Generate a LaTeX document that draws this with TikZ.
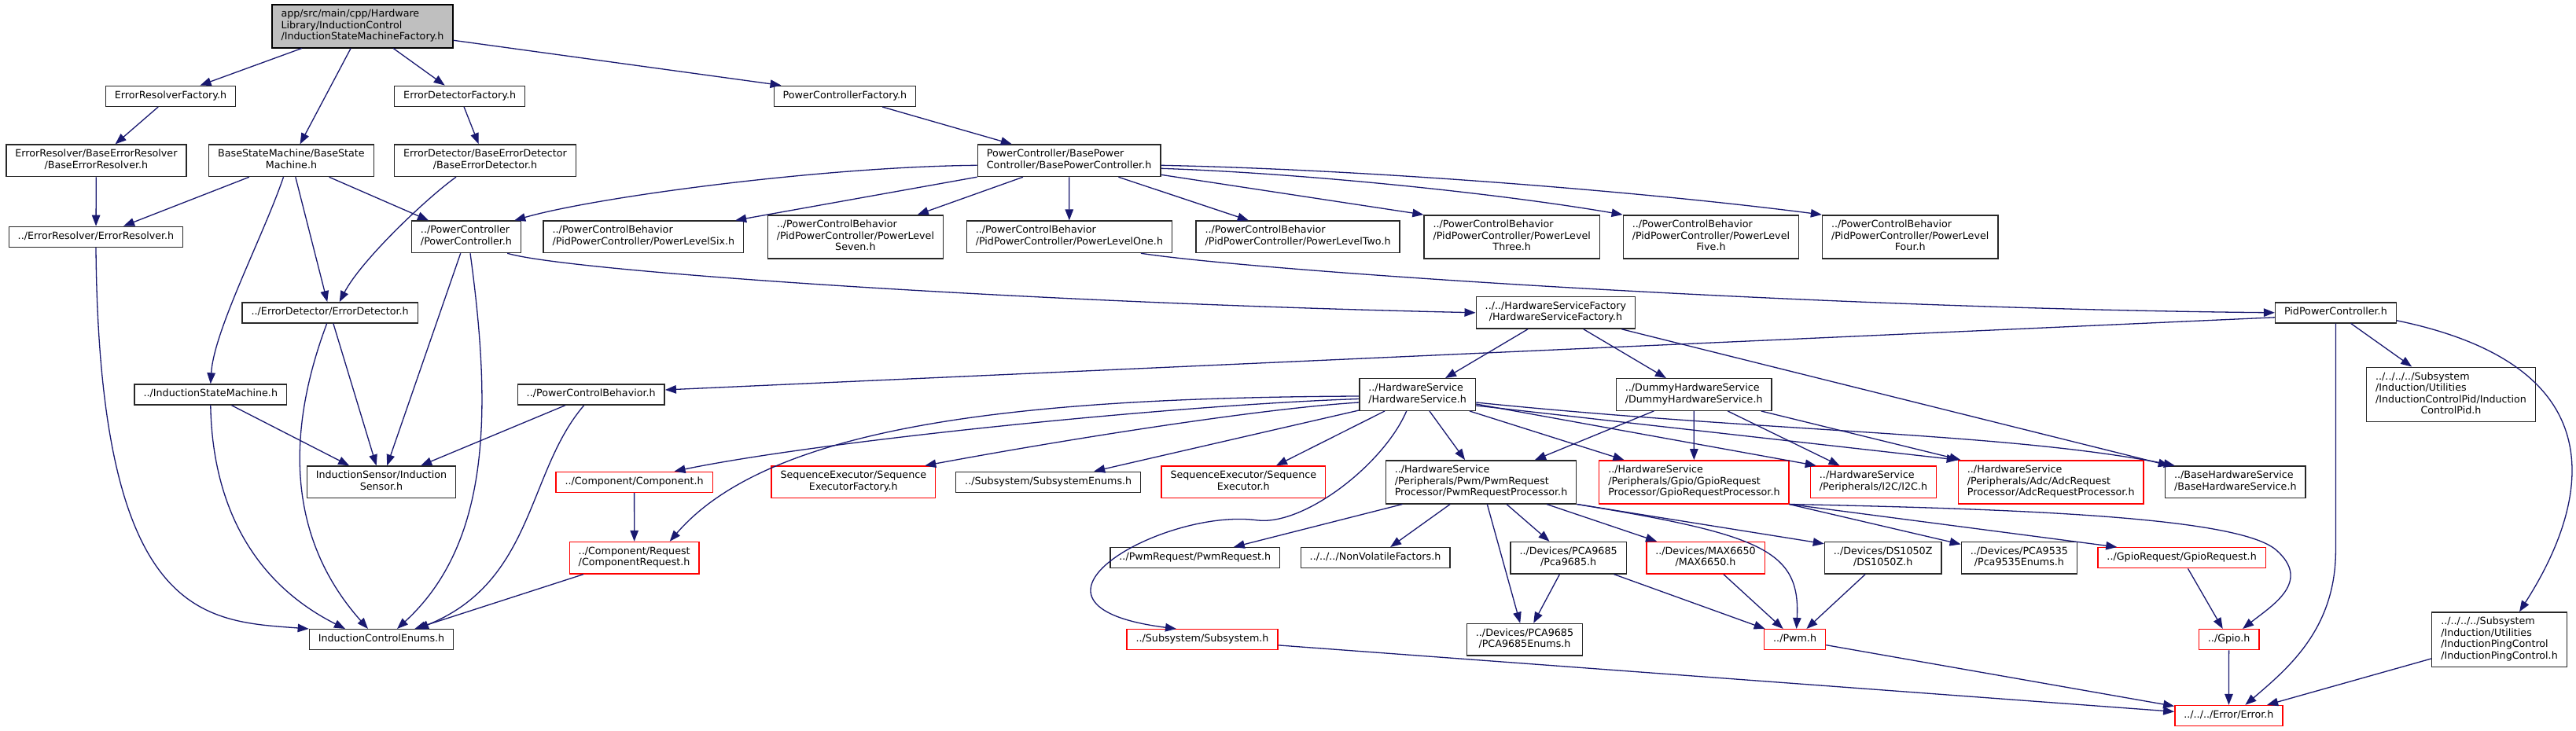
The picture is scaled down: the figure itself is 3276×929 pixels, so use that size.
\documentclass[tikz,border=0pt]{standalone}
\usepackage{fontspec}
\setmainfont{DejaVu Sans}
\usepackage{tikz}
\usetikzlibrary{arrows.meta, positioning, calc}
\definecolor{edgeBlue}{RGB}{25, 25, 112}
\definecolor{rootGray}{RGB}{191, 191, 191}
\definecolor{borderDark}{RGB}{40, 40, 40}
\definecolor{truncRed}{RGB}{255, 0, 0}
\newcommand{\dox}{\fontsize{12.7}{14.5}\selectfont}
\newcommand{\incf}[1]{\begin{tabular}{@{}l@{}}#1\end{tabular}}
\newcommand{\ctrline}[1]{\multicolumn{1}{@{}c@{}}{#1}}

\begin{document}
\begin{tikzpicture}[
    x=1pt, y=1pt,
    file/.style={draw=borderDark, fill=white, line width=1.4pt, inner xsep=11.5pt, inner ysep=5.75pt, font=\dox},
    root/.style={file, draw=black, fill=rootGray},
    trunc/.style={file, draw=truncRed},
    dep/.style={draw=edgeBlue, line width=1.3pt, -{Triangle[length=14pt, width=10.5pt]}}
]
    \useasboundingbox (0, 0) rectangle (3276, -929);
    \fill[white] (0, 0) rectangle (3276, -929);

    % Root file
    \node[root] (ismf) at (461, -33.3) {\incf{app/src/main/cpp/Hardware\\Library/InductionControl\\/InductionStateMachineFactory.h}};

    % Factories (first level)
    \node[file] (erf) at (217, -122.3) {\incf{ErrorResolverFactory.h}};
    \node[file] (edf) at (584.7, -122.3) {\incf{ErrorDetectorFactory.h}};
    \node[file] (pcf) at (1074.5, -122.3) {\incf{PowerControllerFactory.h}};

    % Base classes
    \node[file] (berr) at (122.4, -204.3) {\incf{ErrorResolver/BaseErrorResolver\\\ctrline{/BaseErrorResolver.h}}};
    \node[file] (bsm) at (370.5, -204.3) {\incf{BaseStateMachine/BaseState\\\ctrline{Machine.h}}};
    \node[file] (bed) at (617, -204.3) {\incf{ErrorDetector/BaseErrorDetector\\\ctrline{/BaseErrorDetector.h}}};
    \node[file] (bpc) at (1359.6, -204.3) {\incf{PowerController/BasePower\\Controller/BasePowerController.h}};

    % Power levels row
    \node[file] (errres) at (122, -301.3) {\incf{../ErrorResolver/ErrorResolver.h}};
    \node[file] (pc) at (593, -301.3) {\incf{../PowerController\\/PowerController.h}};
    \node[file] (plsix) at (818.4, -301.3) {\incf{../PowerControlBehavior\\/PidPowerController/PowerLevelSix.h}};
    \node[file] (plseven) at (1087.9, -301.3) {\incf{../PowerControlBehavior\\/PidPowerController/PowerLevel\\\ctrline{Seven.h}}};
    \node[file] (plone) at (1359.9, -301.3) {\incf{../PowerControlBehavior\\/PidPowerController/PowerLevelOne.h}};
    \node[file] (pltwo) at (1650.6, -301.3) {\incf{../PowerControlBehavior\\/PidPowerController/PowerLevelTwo.h}};
    \node[file] (plthree) at (1922.7, -301.3) {\incf{../PowerControlBehavior\\/PidPowerController/PowerLevel\\\ctrline{Three.h}}};
    \node[file] (plfive) at (2175.9, -301.3) {\incf{../PowerControlBehavior\\/PidPowerController/PowerLevel\\\ctrline{Five.h}}};
    \node[file] (plfour) at (2429.2, -301.3) {\incf{../PowerControlBehavior\\/PidPowerController/PowerLevel\\\ctrline{Four.h}}};

    % Middle row
    \node[file] (errdet) at (419.7, -397.8) {\incf{../ErrorDetector/ErrorDetector.h}};
    \node[file] (hsf) at (1978.4, -397.8) {\incf{../../HardwareServiceFactory\\\ctrline{/HardwareServiceFactory.h}}};
    \node[file] (pid) at (2970.4, -397.8) {\incf{PidPowerController.h}};

    \node[file] (ism) at (267.8, -502) {\incf{../InductionStateMachine.h}};
    \node[file] (pcb) at (751.7, -502) {\incf{../PowerControlBehavior.h}};
    \node[file] (hs) at (1802.7, -502) {\incf{../HardwareService\\/HardwareService.h}};
    \node[file] (dhs) at (2154.2, -502) {\incf{../DummyHardwareService\\/DummyHardwareService.h}};
    \node[file] (icpid) at (3117, -502) {\incf{../../../../Subsystem\\/Induction/Utilities\\/InductionControlPid/Induction\\\ctrline{ControlPid.h}}};

    % Peripherals row
    \node[file] (isensor) at (485, -613.3) {\incf{InductionSensor/Induction\\\ctrline{Sensor.h}}};
    \node[trunc] (comp) at (806.6, -613.3) {\incf{../Component/Component.h}};
    \node[trunc] (seqfac) at (1085.3, -613.3) {\incf{SequenceExecutor/Sequence\\\ctrline{ExecutorFactory.h}}};
    \node[file] (subenums) at (1333.2, -613.3) {\incf{../Subsystem/SubsystemEnums.h}};
    \node[trunc] (seqexec) at (1581.3, -613.3) {\incf{SequenceExecutor/Sequence\\\ctrline{Executor.h}}};
    \node[file] (pwmproc) at (1883.5, -613.3) {\incf{../HardwareService\\/Peripherals/Pwm/PwmRequest\\Processor/PwmRequestProcessor.h}};
    \node[trunc] (gpioproc) at (2154.4, -613.3) {\incf{../HardwareService\\/Peripherals/Gpio/GpioRequest\\Processor/GpioRequestProcessor.h}};
    \node[trunc] (itwoc) at (2382.5, -613.3) {\incf{../HardwareService\\/Peripherals/I2C/I2C.h}};
    \node[trunc] (adcproc) at (2608.2, -613.3) {\incf{../HardwareService\\/Peripherals/Adc/AdcRequest\\Processor/AdcRequestProcessor.h}};
    \node[file] (bhs) at (2842.8, -613.3) {\incf{../BaseHardwareService\\/BaseHardwareService.h}};

    % Devices row
    \node[trunc] (compreq) at (806.7, -709.7) {\incf{../Component/Request\\/ComponentRequest.h}};
    \node[file] (pwmreq) at (1519.8, -709.7) {\incf{../PwmRequest/PwmRequest.h}};
    \node[file] (nvf) at (1749, -709.7) {\incf{../../../NonVolatileFactors.h}};
    \node[file] (pca9685) at (1994.6, -709.7) {\incf{../Devices/PCA9685\\\ctrline{/Pca9685.h}}};
    \node[trunc] (max6650) at (2169, -709.7) {\incf{../Devices/MAX6650\\\ctrline{/MAX6650.h}}};
    \node[file] (ds1050z) at (2394.7, -709.7) {\incf{../Devices/DS1050Z\\\ctrline{/DS1050Z.h}}};
    \node[file] (pca9535) at (2567.9, -709.7) {\incf{../Devices/PCA9535\\\ctrline{/Pca9535Enums.h}}};
    \node[trunc] (gpioreq) at (2774.6, -709.7) {\incf{../GpioRequest/GpioRequest.h}};

    % Bottom rows
    \node[file] (ice) at (485, -813.7) {\incf{InductionControlEnums.h}};
    \node[trunc] (subsys) at (1529, -813.7) {\incf{../Subsystem/Subsystem.h}};
    \node[file] (pca9685enums) at (1939, -813.7) {\incf{../Devices/PCA9685\\\ctrline{/PCA9685Enums.h}}};
    \node[trunc] (pwm) at (2282.6, -813.7) {\incf{../Pwm.h}};
    \node[trunc] (gpio) at (2834.6, -813.7) {\incf{../Gpio.h}};
    \node[file] (ping) at (3178.5, -813.7) {\incf{../../../../Subsystem\\/Induction/Utilities\\/InductionPingControl\\/InductionPingControl.h}};
    \node[trunc] (error) at (2834.4, -910.5) {\incf{../../../Error/Error.h}};

    % Root includes
    \draw[dep] (ismf) -- (erf);
    \draw[dep] (ismf) -- (bsm);
    \draw[dep] (ismf) -- (edf);
    \draw[dep] ([yshift=-18pt]ismf.east) -- ([xshift=10pt]pcf.north west);

    % Factories and base classes
    \draw[dep] (erf) -- (berr);
    \draw[dep] (edf) -- (bed);
    \draw[dep] (pcf) -- (bpc);
    \draw[dep] (berr) -- (errres);
    \draw[dep] (bsm) -- (errres);
    \draw[dep] (bsm) -- (pc);
    \draw[dep] (bsm) -- (errdet);
    \draw[dep] ([xshift=-10pt]bsm.south) .. controls (335, -300) and (272, -420) .. (ism.north);
    \draw[dep] ([xshift=-37pt]bed.south) .. controls (545, -250) and (460, -330) .. ([xshift=12pt]errdet.north);

    % Base power controller fan out
    \draw[dep] ([yshift=-6pt]bpc.west) .. controls (1050, -212) and (760, -250) .. ([xshift=-9pt]pc.north east);
    \draw[dep] (bpc) -- (plsix);
    \draw[dep] (bpc) -- (plseven);
    \draw[dep] (bpc) -- (plone);
    \draw[dep] (bpc) -- (pltwo);
    \draw[dep] ([yshift=-18pt]bpc.east) -- (plthree.north west);
    \draw[dep] ([yshift=-10pt]bpc.east) .. controls (1650, -220) and (1900, -245) .. (plfive.north west);
    \draw[dep] ([yshift=-6pt]bpc.east) .. controls (1750, -216) and (2100, -245) .. (plfour.north west);

    % Left cluster (sensor and enums)
    \draw[dep] (errres.south) .. controls (126, -790) and (260, -790) .. (ice.north west);
    \draw[dep] (errdet) -- (isensor);
    \draw[dep] ([xshift=-4pt]errdet.south) .. controls (360, -560) and (370, -690) .. ([xshift=-17pt]ice.north);
    \draw[dep] (pc) -- (isensor);
    \draw[dep] ([xshift=5pt]pc.south) .. controls (625, -520) and (625, -690) .. ([xshift=20pt]ice.north);
    \draw[dep] ([xshift=-18pt]pc.south east) .. controls (720, -345) and (1300, -385) .. (hsf.west);
    \draw[dep] (ism) -- (isensor);
    \draw[dep] (ism.south) .. controls (270, -640) and (320, -740) .. ([xshift=-46pt]ice.north);
    \draw[dep] (pcb) -- (isensor);
    \draw[dep] ([xshift=-9pt]pcb.south) .. controls (670, -600) and (680, -740) .. ([xshift=46pt]ice.north);
    \draw[dep] (comp) -- (compreq);
    \draw[dep] (compreq) -- (ice);

    % Pid power controller
    \draw[dep] ([xshift=91pt]plone.south) .. controls (1600, -345) and (2300, -392) .. (pid.west);
    \draw[dep] ([yshift=-6pt]pid.west) -- ([yshift=6pt]pcb.east);
    \draw[dep] (pid) -- (icpid);
    \draw[dep] (pid.south) -- (2970.4, -700) .. controls (2970.4, -800) and (2910, -850) .. ([xshift=21pt]error.north);
    \draw[dep] ([yshift=-10pt]pid.east) .. controls (3350, -470) and (3280, -660) .. ([xshift=25.5pt]ping.north);
    \draw[dep] (ping) -- (error);

    % Hardware service factory
    \draw[dep] (hsf) -- (hs);
    \draw[dep] (hsf) -- (dhs);
    \draw[dep] (hsf) -- (bhs);

    % Hardware service
    \draw[dep] ([yshift=-2pt]hs.west) .. controls (1300, -506) and (980, -540) .. ([xshift=45pt]compreq.north);
    \draw[dep] ([yshift=-5.5pt]hs.west) .. controls (1500, -515) and (1050, -560) .. ([xshift=51pt]comp.north);
    \draw[dep] ([yshift=-10pt]hs.west) .. controls (1600, -520) and (1350, -560) .. ([xshift=91pt]seqfac.north);
    \draw[dep] ([yshift=-20pt]hs.west) -- ([xshift=58pt]subenums.north);
    \draw[dep] (hs) -- (seqexec);
    \draw[dep] (hs) -- (pwmproc);
    \draw[dep] ([xshift=-14pt]hs.south) .. controls (1760, -590) and (1660, -668) .. (1600, -662)
        .. controls (1480, -645) and (1260, -770) .. ([xshift=-33pt]subsys.north);
    \draw[dep] (hs) -- (gpioproc);
    \draw[dep] ([yshift=-12pt]hs.east) -- ([xshift=8pt]itwoc.north west);
    \draw[dep] ([yshift=-14pt]hs.east) -- (adcproc.north west);
    \draw[dep] ([yshift=-10pt]hs.east) .. controls (2250, -550) and (2550, -550) .. ([xshift=13pt]bhs.north west);

    % Dummy hardware service
    \draw[dep] (dhs) -- (pwmproc);
    \draw[dep] (dhs) -- (gpioproc);
    \draw[dep] (dhs) -- (itwoc);
    \draw[dep] (dhs) -- (adcproc);

    % Pwm request processor
    \draw[dep] ([xshift=-100pt]pwmproc.south) -- ([xshift=49pt]pwmreq.north);
    \draw[dep] (pwmproc) -- (nvf);
    \draw[dep] (pwmproc) -- (pca9685enums);
    \draw[dep] (pwmproc) -- (pca9685);
    \draw[dep] (pwmproc) -- (max6650);
    \draw[dep] (pwmproc.south east) -- ([yshift=-3pt]ds1050z.north west);
    \draw[dep] (pwmproc.south east) .. controls (2240, -680) and (2290, -700) .. ([xshift=2pt]pwm.north);

    % Devices
    \draw[dep] (pca9685) -- (pca9685enums);
    \draw[dep] (pca9685) -- (pwm);
    \draw[dep] (max6650) -- (pwm);
    \draw[dep] (ds1050z) -- (pwm);

    % Gpio request processor
    \draw[dep] (gpioproc) -- (pca9535);
    \draw[dep] (gpioproc.south east) -- ([xshift=25pt]gpioreq.north west);
    \draw[dep] (gpioproc.south east) .. controls (2600, -648) and (2850, -660) .. (2895, -700)
        .. controls (2940, -740) and (2890, -770) .. ([xshift=17.5pt]gpio.north);
    \draw[dep] (gpioreq) -- (gpio);

    % Error
    \draw[dep] (gpio) -- (error);
    \draw[dep] (pwm) -- (error);
    \draw[dep] (subsys) -- (error);
\end{tikzpicture}
\end{document}
